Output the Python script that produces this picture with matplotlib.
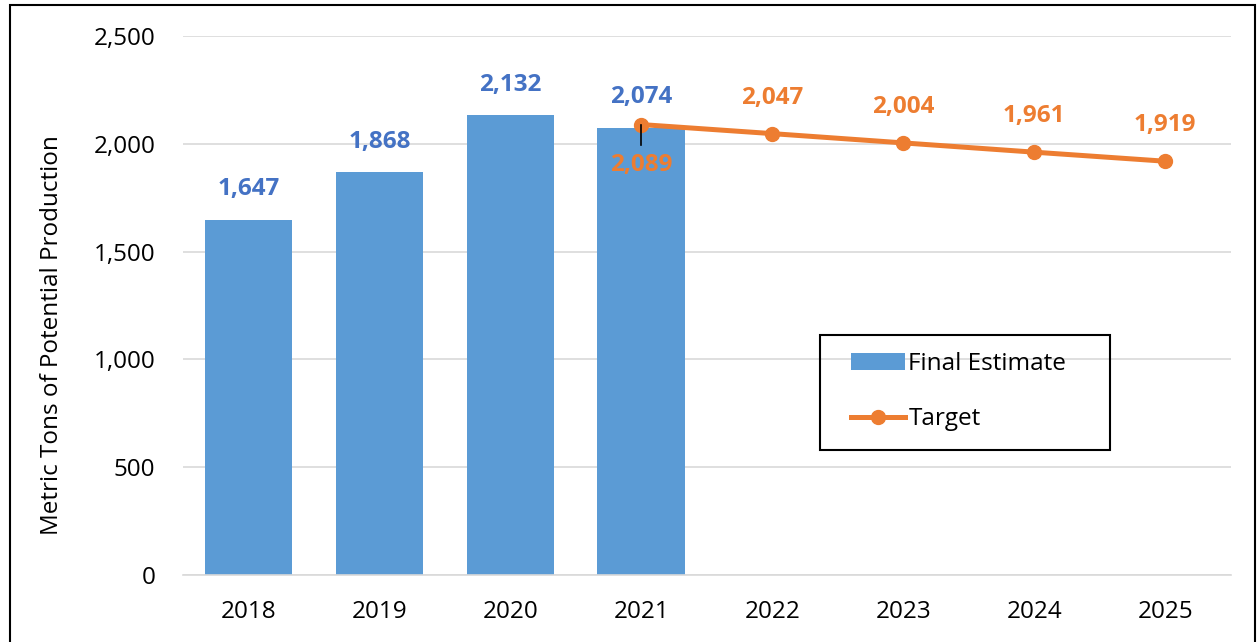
import matplotlib.pyplot as plt
from matplotlib.patches import Rectangle
import numpy as np

plt.rcParams["font.family"] = ["Open Sans", "DejaVu Sans"]

years = ["2018", "2019", "2020", "2021", "2022", "2023", "2024", "2025"]
final_estimate = [1647, 1868, 2132, 2074]
target_years = ["2021", "2022", "2023", "2024", "2025"]
target = [2089, 2047, 2004, 1961, 1919]

blue = "#5B9BD5"
blue_text = "#4472C4"
orange = "#ED7D31"

fig = plt.figure(figsize=(12.57, 6.42), dpi=100)
ax = fig.add_axes([0.1456, 0.1044, 0.8334, 0.8396])

x = np.arange(len(years))
xb = x[:len(final_estimate)]
xt = np.array([years.index(y) for y in target_years])

bars = ax.bar(xb, final_estimate, width=0.67, color=blue, zorder=2, label="Final Estimate")
line, = ax.plot(xt, target, color=orange, lw=3.6, marker="o", ms=10, zorder=3, label="Target")

for xi, v in zip(xb, final_estimate):
    ax.annotate(f"{v:,}", (xi, v), xytext=(0, 22), textcoords="offset points",
                ha="center", va="center", color=blue_text, fontsize=17.5, fontweight="bold")
for i, (xi, v) in enumerate(zip(xt, target)):
    if i == 0:
        ax.annotate(f"{v:,}", (xi, v), xytext=(0, -29), textcoords="offset points",
                    ha="center", va="center", color=orange, fontsize=17.5, fontweight="bold")
        ax.plot([xi, xi], [v, v - 95], color="black", lw=1.2, zorder=4)
    else:
        ax.annotate(f"{v:,}", (xi, v), xytext=(0, 26), textcoords="offset points",
                    ha="center", va="center", color=orange, fontsize=17.5, fontweight="bold")

ax.set_xlim(-0.5, len(years) - 0.5)
ax.set_ylim(0, 2500)
ax.set_yticks(np.arange(0, 2501, 500))
ax.set_yticklabels([f"{v:,}" for v in range(0, 2501, 500)])
ax.set_xticks(x)
ax.set_xticklabels(years)
ax.tick_params(axis="both", length=0, labelsize=17.5, colors="black")
ax.tick_params(axis="y", pad=20)
ax.tick_params(axis="x", pad=18)
ax.grid(axis="y", color="#D9D9D9", lw=1.2, zorder=0)
ax.set_axisbelow(True)
for s in ["top", "right", "left"]:
    ax.spines[s].set_visible(False)
ax.spines["bottom"].set_color("#D9D9D9")
ax.spines["bottom"].set_linewidth(1.2)
ax.set_ylabel("Metric Tons of Potential Production", fontsize=17.5, labelpad=21)
ax.yaxis.label.set_y(0.445)

# legend box drawn separately
ax.add_patch(Rectangle((0.608, 0.232), 0.2765, 0.213, transform=ax.transAxes,
                       fill=False, edgecolor="black", lw=1.5, zorder=5))
ax.legend([bars, line], ["Final Estimate", "Target"],
          loc="center left", bbox_to_anchor=(0.638, 0.3404), frameon=False,
          fontsize=17.5, borderpad=0, borderaxespad=0, labelspacing=1.3,
          handlelength=2.2, handletextpad=0.15)

fig.patches.append(Rectangle((10 / 1257, -0.01), 1245 / 1257, 1 - 5 / 642 + 0.01,
                             transform=fig.transFigure, fill=False, edgecolor="black", lw=1.5))

fig.savefig("out.png", dpi=100)
